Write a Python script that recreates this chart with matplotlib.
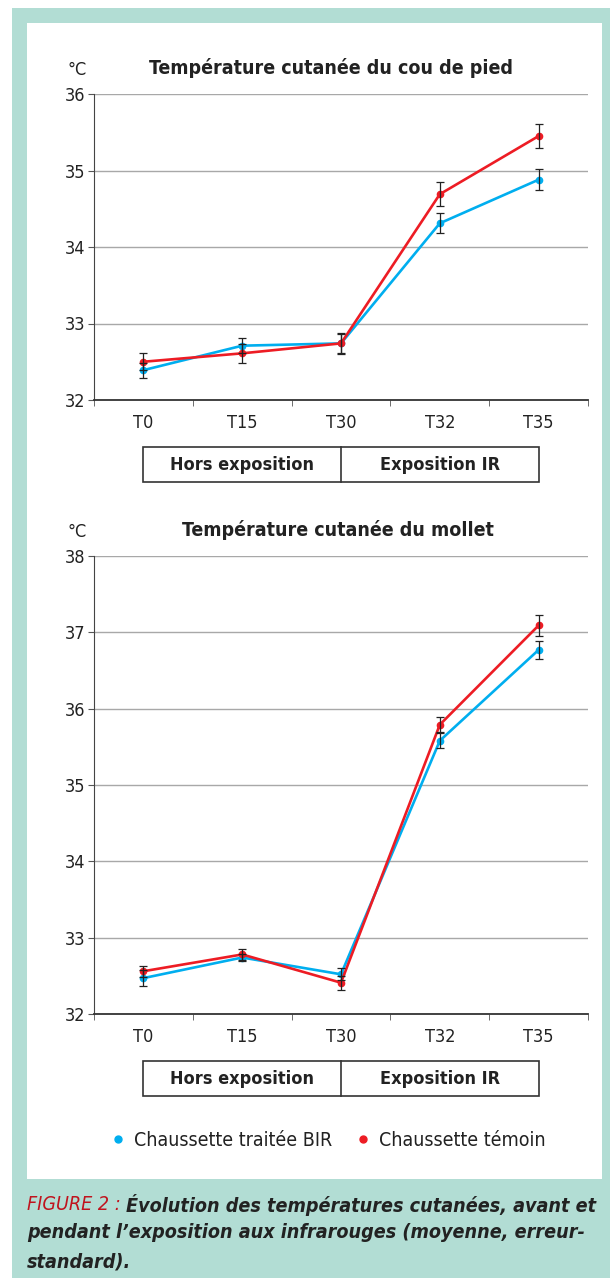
import matplotlib
matplotlib.use("Agg")
import matplotlib.pyplot as plt
from matplotlib.patches import Rectangle
from matplotlib.lines import Line2D
import matplotlib.transforms as mtransforms

plt.rcParams['font.family'] = ['DejaVu Sans']
plt.rcParams['font.stretch'] = 'condensed'

# donnees
temps = ["T0", "T15", "T30", "T32", "T35"]
phases = ["Hors exposition", "Exposition IR"]
series = ["Chaussette traitée BIR", "Chaussette témoin"]

pied_bir = [32.39, 32.71, 32.74, 34.31, 34.88]
pied_bir_err = [0.10, 0.10, 0.14, 0.13, 0.14]
pied_tem = [32.50, 32.61, 32.74, 34.69, 35.45]
pied_tem_err = [0.11, 0.12, 0.12, 0.16, 0.16]

mollet_bir = [32.47, 32.74, 32.52, 35.58, 36.77]
mollet_bir_err = [0.10, 0.05, 0.08, 0.10, 0.12]
mollet_tem = [32.56, 32.78, 32.41, 35.79, 37.09]
mollet_tem_err = [0.07, 0.07, 0.09, 0.10, 0.14]

BLEU = "#00aeef"
ROUGE = "#ed1c24"
TEAL = "#b2ddd4"
W, H = 610, 1278

fig = plt.figure(figsize=(W / 100, H / 100), dpi=100)


def px(x, y):
    return x / W, 1 - y / H


# cadre
fig.patches.append(Rectangle(px(12, 1278), 598 / W, 1270 / H, transform=fig.transFigure,
                             facecolor=TEAL, edgecolor="none", zorder=-3))
fig.patches.append(Rectangle(px(27, 1179), 575 / W, 1156 / H, transform=fig.transFigure,
                             facecolor="white", edgecolor="none", zorder=-2))


def graphe(top, bottom, ymin, ymax, bir, bir_err, tem, tem_err, titre, ytitre, xtitre):
    ax = fig.add_axes([94 / W, 1 - bottom / H, 494 / W, (bottom - top) / H])
    ax.set_facecolor("none")
    x = list(range(len(temps)))
    ax.plot(x, bir, color=BLEU, lw=1.9, marker="o", ms=4.5, zorder=3)
    ax.plot(x, tem, color=ROUGE, lw=1.9, marker="o", ms=4.5, zorder=4)
    ax.errorbar(x, bir, yerr=bir_err, fmt="none", ecolor="#222222", elinewidth=0.9,
                capsize=3, capthick=0.9, zorder=5)
    ax.errorbar(x, tem, yerr=tem_err, fmt="none", ecolor="#222222", elinewidth=0.9,
                capsize=3, capthick=0.9, zorder=5)
    ax.set_xlim(-0.5, len(temps) - 0.5)
    ax.set_ylim(ymin, ymax)
    ax.set_yticks(range(ymin, ymax + 1))
    ax.set_xticks(x)
    ax.set_xticklabels(temps)
    ax.set_xticks([i - 0.5 for i in range(len(temps) + 1)], minor=True)
    ax.tick_params(axis="x", which="major", length=0, labelsize=13, pad=10, labelcolor="#222222")
    ax.tick_params(axis="x", which="minor", length=4, color="#555555", direction="out")
    ax.tick_params(axis="y", length=4, color="#555555", labelsize=13, pad=2, labelcolor="#222222")
    ax.grid(axis="y", color="#a8a8a8", lw=1)
    ax.set_axisbelow(True)
    for s in ["top", "right"]:
        ax.spines[s].set_visible(False)
    ax.spines["left"].set_color("#444444")
    ax.spines["bottom"].set_color("#333333")
    ax.spines["bottom"].set_linewidth(1.3)

    fig.text(xtitre / W, 1 - ytitre / H, titre, ha="center", va="center",
             fontsize=14, fontweight="bold", color="#222222")
    fig.text(77 / W, 1 - (ytitre + 2) / H, "°C", ha="center", va="center",
             fontsize=13, color="#222222")

    # bandeau des phases sous l'axe
    trans = mtransforms.blended_transform_factory(ax.transData, fig.transFigure)
    yb0 = 1 - (bottom + 82) / H
    yb1 = 1 - (bottom + 47) / H
    ax.add_patch(Rectangle((0, yb0), 4, yb1 - yb0, transform=trans, fill=False,
                           edgecolor="#333333", lw=1.2, clip_on=False))
    ax.add_line(Line2D([2, 2], [yb0, yb1], transform=trans, color="#333333", lw=1.2,
                       clip_on=False))
    for xc, lab in zip([1, 3], phases):
        ax.text(xc, (yb0 + yb1) / 2, lab, transform=trans, ha="center", va="center",
                fontsize=13, fontweight="bold", color="#222222")
    return ax


graphe(94, 400, 32, 36, pied_bir, pied_bir_err, pied_tem, pied_tem_err,
       "Température cutanée du cou de pied", 68, 331)
graphe(556, 1014, 32, 38, mollet_bir, mollet_bir_err, mollet_tem, mollet_tem_err,
       "Température cutanée du mollet", 530, 338)

handles = [Line2D([], [], color=c, marker="o", ls="none", ms=5) for c in (BLEU, ROUGE)]
fig.legend(handles, series, loc="center", bbox_to_anchor=(328 / W, 1 - 1140 / H), ncol=2,
           frameon=False, fontsize=14, handletextpad=0.4, columnspacing=1.2,
           handlelength=0.8, labelcolor="#222222")

# legende de figure
cap_kw = dict(fontsize=14.1, style="italic", va="center", color="#222222")
fig.canvas.draw()
t0 = fig.text(27 / W, 1 - 1205 / H, "FIGURE 2 : ", color="#c0141e",
              **{k: v for k, v in cap_kw.items() if k != "color"})
bb = t0.get_window_extent(fig.canvas.get_renderer())
fig.text(bb.x1 / W, 1 - 1205 / H, "Évolution des températures cutanées, avant et",
         fontweight="bold", **cap_kw)
fig.text(27 / W, 1 - 1233 / H, "pendant l’exposition aux infrarouges (moyenne, erreur-",
         fontweight="bold", **cap_kw)
fig.text(27 / W, 1 - 1262 / H, "standard).", fontweight="bold", **cap_kw)

fig.savefig("out.png", dpi=100)
